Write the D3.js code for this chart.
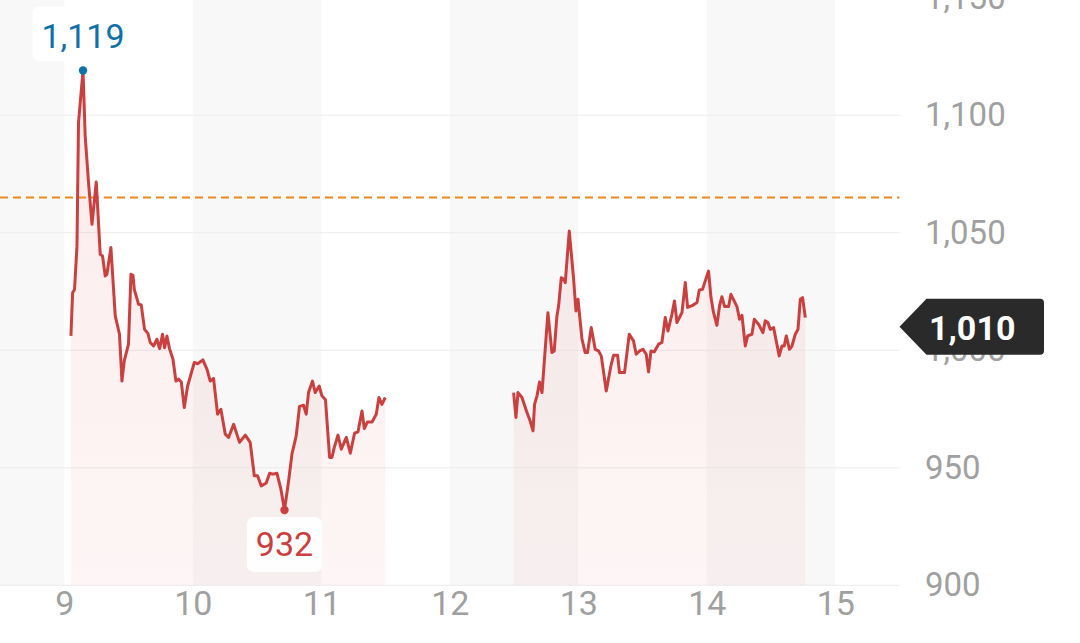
<!DOCTYPE html>
<html>
<head>
<meta charset="utf-8">
<script src="https://cdn.jsdelivr.net/npm/d3@7"></script>
<style>
  html, body { margin: 0; padding: 0; background: #fff; }
  svg { display: block; font-family: Roboto, "Noto Sans", sans-serif; }
</style>
</head>
<body>
<div id="chart"></div>
<script>
// session 1 (9th to mid 11th)
const seg1Days = [9.052, 9.065, 9.080, 9.099, 9.111, 9.146, 9.163, 9.189, 9.216, 9.249,
  9.280, 9.298, 9.319, 9.332, 9.363, 9.397, 9.430, 9.449, 9.467, 9.500,
  9.519, 9.535, 9.545, 9.578, 9.599, 9.625, 9.651, 9.669, 9.695, 9.721,
  9.742, 9.765, 9.781, 9.799, 9.819, 9.846, 9.869, 9.889, 9.911, 9.934,
  9.960, 10.012, 10.037, 10.079, 10.111, 10.136, 10.162, 10.193, 10.219, 10.253,
  10.279, 10.318, 10.364, 10.409, 10.447, 10.479, 10.504, 10.533, 10.572, 10.598,
  10.624, 10.655, 10.686, 10.714, 10.746, 10.772, 10.805, 10.831, 10.862, 10.883,
  10.901, 10.932, 10.953, 10.984, 11.005, 11.033, 11.065, 11.083, 11.101, 11.130,
  11.156, 11.195, 11.226, 11.259, 11.286, 11.317, 11.335, 11.360, 11.395, 11.428,
  11.449, 11.472, 11.498];
const seg1Values = [1006.1, 1024.5, 1025.9, 1044.3, 1096.8, 1119, 1091.1, 1071.3, 1053.6, 1071.6,
  1040.8, 1040.1, 1031.6, 1032.3, 1043.7, 1014.6, 1006.8, 986.9, 995.5, 1002.6,
  1032.3, 1031.9, 1025.9, 1019.6, 1019.3, 1008.9, 1007.2, 1003.3, 1001.8, 1004.7,
  1000.7, 1006.8, 1001.1, 1006.1, 1000.7, 996.2, 986.9, 987.7, 986.5, 975.6,
  984.8, 994.8, 994.3, 995.9, 991.9, 986.9, 988.0, 972.8, 974.9, 964.3,
  962.9, 968.5, 960.8, 963.9, 960.8, 946.6, 946.6, 942.3, 943.5, 947.7,
  947.3, 947.7, 940.9, 932, 944.4, 955.8, 963.6, 976.1, 976.6, 972.8,
  982.0, 986.9, 982.0, 984.8, 980.6, 978.9, 954.4, 954.4, 958.6, 963.9,
  957.9, 962.9, 956.2, 964.7, 965.3, 974.2, 966.7, 969.5, 969.5, 972.8,
  979.9, 977.0, 979.9];

// session 2 (mid 12th to 14th)
const seg2Days = [12.497, 12.515, 12.531, 12.562, 12.601, 12.626, 12.648, 12.660, 12.679, 12.699,
  12.718, 12.764, 12.795, 12.813, 12.834, 12.847, 12.868, 12.886, 12.899, 12.930,
  12.963, 12.982, 12.998, 13.029, 13.054, 13.072, 13.101, 13.132, 13.158, 13.179,
  13.218, 13.254, 13.275, 13.306, 13.321, 13.360, 13.397, 13.430, 13.451, 13.477,
  13.504, 13.529, 13.547, 13.566, 13.591, 13.625, 13.651, 13.677, 13.698, 13.729,
  13.749, 13.768, 13.807, 13.833, 13.851, 13.890, 13.924, 13.942, 13.967, 14.014,
  14.033, 14.053, 14.079, 14.100, 14.118, 14.139, 14.170, 14.188, 14.235, 14.255,
  14.274, 14.300, 14.318, 14.352, 14.370, 14.403, 14.437, 14.455, 14.476, 14.494,
  14.520, 14.564, 14.585, 14.603, 14.619, 14.644, 14.663, 14.689, 14.710, 14.728,
  14.746, 14.767];
const seg2Values = [982.0, 971.4, 982.0, 979.9, 973.5, 969.9, 965.7, 977.0, 980.6, 986.5,
  982.0, 1016.0, 999.0, 999.7, 1014.6, 1018.8, 1030.9, 1030.2, 1028.8, 1050.7,
  1030.9, 1016.7, 1021.7, 1004.7, 999.0, 999.0, 1009.7, 1000.4, 999.7, 997.6,
  982.7, 993.3, 997.9, 997.9, 990.5, 990.5, 1006.8, 1004.0, 998.3, 999.7,
  1000.4, 998.3, 990.8, 999.7, 999.3, 1002.6, 1003.3, 1013.9, 1008.2, 1015.3,
  1021.0, 1011.8, 1016.0, 1028.8, 1018.2, 1019.1, 1020.3, 1025.6, 1025.9, 1033.7,
  1022.4, 1016.0, 1010.6, 1019.1, 1022.8, 1018.6, 1018.6, 1023.8, 1018.6, 1013.2,
  1014.9, 1001.8, 1006.1, 1006.8, 1013.2, 1011.1, 1007.5, 1012.5, 1011.8, 1008.9,
  1009.7, 997.6, 1001.8, 1001.8, 1006.1, 1000.4, 1001.8, 1006.8, 1008.9, 1021.7,
  1022.4, 1013.9];

const xTicks = [9, 10, 11, 12, 13, 14, 15];
const yTicks = [900, 950, 1000, 1050, 1100, 1150];
const bandDays = [8, 10, 12, 14];   // shaded days
const refLevel = 1065;              // dashed reference line
const lastPrice = 1010;

const width = 1080;
const height = 643;
const plotRight = 899.5;
const plotBottom = 585.3;

const x = d3.scaleLinear().domain([8.5, 15.5]).range([0, plotRight]);
const y = d3.scaleLinear().domain([900, 1150]).range([plotBottom, -2.3]);

const seg1 = seg1Days.map((d, i) => ({day: d, value: seg1Values[i]}));
const seg2 = seg2Days.map((d, i) => ({day: d, value: seg2Values[i]}));
const all = seg1.concat(seg2);

const svg = d3.select('#chart').append('svg')
  .attr('width', width)
  .attr('height', height)
  .attr('viewBox', [0, 0, width, height]);

const defs = svg.append('defs');
const grad = defs.append('linearGradient')
  .attr('id', 'fillGrad')
  .attr('gradientUnits', 'userSpaceOnUse')
  .attr('x1', 0).attr('x2', 0)
  .attr('y1', 0).attr('y2', plotBottom);
grad.append('stop').attr('offset', '0%').attr('stop-color', '#e04848').attr('stop-opacity', 0.12);
grad.append('stop').attr('offset', '100%').attr('stop-color', '#e04848').attr('stop-opacity', 0.05);

// alternating day bands
svg.append('g').selectAll('rect')
  .data(bandDays)
  .join('rect')
    .attr('x', (d) => x(Math.max(d, 8.5)))
    .attr('width', (d) => x(Math.min(d + 1, 15.5)) - x(Math.max(d, 8.5)))
    .attr('y', 0)
    .attr('height', plotBottom)
    .attr('fill', '#f8f8f8');

// gridlines
svg.append('g').selectAll('line')
  .data(yTicks)
  .join('line')
    .attr('x1', 0)
    .attr('x2', plotRight)
    .attr('y1', (d) => y(d))
    .attr('y2', (d) => y(d))
    .attr('stroke', '#ececec')
    .attr('stroke-width', 1);

const area = d3.area()
  .x((d) => x(d.day))
  .y0(y(900))
  .y1((d) => y(d.value));

const line = d3.line()
  .x((d) => x(d.day))
  .y((d) => y(d.value));

[seg1, seg2].forEach((seg) => {
  svg.append('path')
    .datum(seg)
    .attr('d', area)
    .attr('fill', 'url(#fillGrad)');
});

// reference line
svg.append('line')
  .attr('x1', 0)
  .attr('x2', plotRight)
  .attr('y1', y(refLevel))
  .attr('y2', y(refLevel))
  .attr('stroke', '#ea8a1e')
  .attr('stroke-width', 2)
  .attr('stroke-dasharray', '8 5');

[seg1, seg2].forEach((seg) => {
  svg.append('path')
    .datum(seg)
    .attr('d', line)
    .attr('fill', 'none')
    .attr('stroke', '#c9403f')
    .attr('stroke-width', 3)
    .attr('stroke-linejoin', 'round');
});

// axes
const axisY = svg.append('g')
  .attr('transform', `translate(925, 0)`)
  .call(d3.axisRight(y).tickValues(yTicks).tickFormat(d3.format(',')).tickSize(0).tickPadding(0))
  .call((g) => g.select('.domain').remove());
axisY.selectAll('text')
  .attr('font-size', 33)
  .attr('font-family', 'Roboto')
  .attr('fill', '#a0a0a0');

const axisX = svg.append('g')
  .attr('transform', `translate(0, ${plotBottom})`)
  .call(d3.axisBottom(x).tickValues(xTicks).tickFormat(d3.format('d')).tickSize(0).tickPadding(6))
  .call((g) => g.select('.domain').remove());
axisX.selectAll('text')
  .attr('font-size', 34)
  .attr('font-family', 'Roboto')
  .attr('fill', '#a0a0a0');

// high / low markers
function marker(p, color, above) {
  const g = svg.append('g');
  const cx = x(p.day), cy = y(p.value);
  const txt = g.append('text')
    .attr('x', cx)
    .attr('y', above ? cy - 23 : cy + 46)
    .attr('text-anchor', 'middle')
    .attr('font-size', 34)
    .attr('fill', color)
    .text(d3.format(',')(p.value));
  const w = txt.node().getComputedTextLength() + 18;
  g.insert('rect', 'text')
    .attr('x', cx - w / 2)
    .attr('y', above ? cy - 64 : cy + 7)
    .attr('width', w)
    .attr('height', 55)
    .attr('rx', 7)
    .attr('fill', '#fff')
    .attr('fill-opacity', 0.9);
  g.append('circle')
    .attr('cx', cx)
    .attr('cy', cy)
    .attr('r', 4.2)
    .attr('fill', color);
}

const hi = all.reduce((a, b) => (b.value > a.value ? b : a));
const lo = all.reduce((a, b) => (b.value < a.value ? b : a));
marker(hi, '#1170a8', true);
marker(lo, '#c9403f', false);

// last price tag
const ty = y(lastPrice);
const tag = svg.append('g');
tag.append('path')
  .attr('d', `M${plotRight},${ty} L${plotRight + 27},${ty - 28} H${1040} q4,0 4,4 V${ty + 24} q0,4 -4,4 H${plotRight + 27} Z`)
  .attr('fill', '#2a2a2a');
tag.append('text')
  .attr('x', 929)
  .attr('y', ty + 13)
  .attr('font-size', 34)
  .attr('font-weight', 'bold')
  .attr('fill', '#fff')
  .text(d3.format(',')(lastPrice));
</script>
</body>
</html>
